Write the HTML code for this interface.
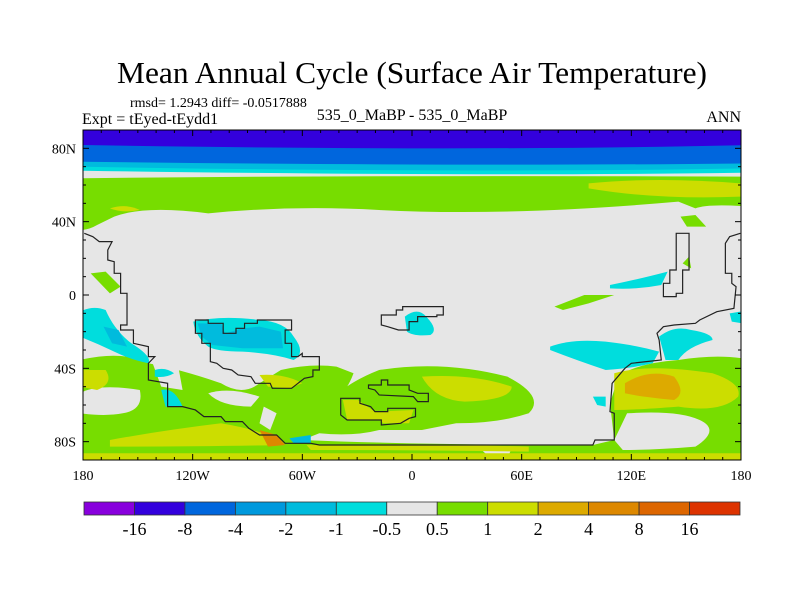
<!DOCTYPE html>
<html><head><meta charset="utf-8"><style>
html,body{margin:0;padding:0;background:#fff;}
svg{display:block;font-family:"Liberation Serif",serif;}
</style></head><body>
<svg id="chart" width="800" height="600" viewBox="0 0 800 600">
<rect x="0" y="0" width="800" height="600" fill="#fff"/>
<text x="412" y="83" font-size="31" text-anchor="middle" textLength="590" lengthAdjust="spacingAndGlyphs">Mean Annual Cycle (Surface Air Temperature)</text>
<text x="130" y="107" font-size="14">rmsd= 1.2943 diff= -0.0517888</text>
<text x="82" y="124" font-size="16">Expt = tEyed-tEydd1</text>
<text x="412" y="120" font-size="16" text-anchor="middle">535_0_MaBP - 535_0_MaBP</text>
<text x="741" y="122" font-size="16" text-anchor="end">ANN</text>
<defs><clipPath id="mc"><rect x="83" y="130" width="658" height="330"/></clipPath></defs>
<g clip-path="url(#mc)">
<rect x="83" y="130" width="658" height="330" fill="#e6e6e6"/>
<g transform="translate(80,130) scale(0.4274,0.3333)">
<path d="M0,0H1570V128Q900,140 0,122Z" fill="#00dddd"/>
<path d="M0,0H1570V115Q900,130 0,110Z" fill="#00bbdd"/>
<path d="M0,0H1570V100Q900,110 0,95Z" fill="#0066dd"/>
<path d="M0,0H1570V45Q900,65 0,45Z" fill="#3300dd"/>
<path d="M0,145 Q600,135 1570,140 V230 Q1470,220 1440,235 L1400,215 Q1000,260 700,240 Q500,225 300,250 Q150,225 80,260 L40,285 Q20,300 0,300Z" fill="#77dd00"/>
<path d="M1190,160 Q1350,140 1545,160 V200 Q1350,210 1190,175Z" fill="#ccdd00"/>
<path d="M70,235 Q110,220 140,240 Q100,250 70,235Z" fill="#ccdd00"/>
<path d="M1405,260 L1440,255 L1465,290 L1420,290Z" fill="#77dd00"/>
<path d="M25,430 L60,425 L95,470 L70,490Z" fill="#77dd00"/>
<path d="M1110,530 L1180,495 L1250,495 L1190,520 L1130,540Z" fill="#77dd00"/>
<path d="M1410,400 L1425,380 L1430,415 Z" fill="#77dd00"/>
<path d="M0,690 Q100,660 160,700 Q240,720 330,760 Q380,800 420,760 L470,720 Q540,700 600,710 L640,730 Q620,800 580,820 Q620,760 700,720 Q850,690 1000,740 Q1090,800 1050,850 Q980,880 880,880 L800,900 L700,900 Q640,920 560,910 L520,930 Q800,945 1200,945 L1250,930 L1240,820 L1260,740 Q1300,700 1400,690 Q1500,670 1570,690 V990 H0Z" fill="#77dd00"/>
<path d="M0,790 Q40,760 140,780 Q150,840 100,850 Q60,860 0,850Z" fill="#e6e6e6"/>
<path d="M170,700 L230,710 L240,780 L190,770Z" fill="#e6e6e6"/>
<path d="M1280,850 Q1400,840 1450,870 Q1500,900 1440,950 Q1350,960 1270,960 L1250,930Z" fill="#e6e6e6"/>
<path d="M300,790 Q350,770 420,800 L400,830 Q330,830 300,790Z" fill="#e6e6e6"/>
<path d="M430,830 L460,850 L445,900 L420,880Z" fill="#e6e6e6"/>
<path d="M940,960 L1010,955 L1000,985 L960,985Z" fill="#e6e6e6"/>
<path d="M800,740 Q920,730 1010,770 Q1010,810 900,815 Q830,810 800,740Z" fill="#ccdd00"/>
<path d="M615,810 L650,810 L690,845 L780,840 L770,880 L710,880 L700,870 L625,870Z" fill="#ccdd00"/>
<path d="M1250,730 Q1330,700 1480,730 Q1550,760 1540,800 Q1500,850 1400,830 Q1300,840 1250,840Z" fill="#ccdd00"/>
<path d="M1275,760 Q1330,715 1390,740 Q1420,790 1390,810 Q1310,800 1275,790Z" fill="#ddaa00"/>
<path d="M0,720 L60,720 Q80,760 40,780 L0,770Z" fill="#ccdd00"/>
<path d="M70,930 Q200,900 330,880 Q420,900 470,930 L480,945 Q300,950 70,950Z" fill="#ccdd00"/>
<path d="M420,900 L460,915 L480,945 L440,950Z" fill="#dd8800"/>
<path d="M0,970 H1570 V990 H0Z" fill="#ccdd00"/>
<path d="M530,945 Q800,940 1050,950 L1050,965 Q800,960 540,960Z" fill="#ccdd00"/>
<path d="M420,735 Q480,730 520,760 L490,775 L440,770Z" fill="#ccdd00"/>
<path d="M0,545 Q30,525 60,540 Q80,600 120,640 Q170,680 160,700 Q120,690 80,665 Q40,640 0,620Z" fill="#00dddd"/>
<path d="M55,590 L90,600 L110,650 L75,640Z" fill="#00bbdd"/>
<path d="M265,575 Q330,555 420,570 Q480,575 500,620 Q530,670 500,690 Q450,670 380,665 Q320,665 300,650 Q270,620 265,575Z" fill="#00dddd"/>
<path d="M275,580 L330,580 L340,610 L380,595 L420,590 L470,605 L475,655 L380,655 L310,645 L285,620Z" fill="#00bbdd"/>
<path d="M175,720 Q200,710 220,730 Q200,745 175,740Z" fill="#00dddd"/>
<path d="M190,780 Q220,770 240,830 L200,830Z" fill="#00dddd"/>
<path d="M760,560 Q790,530 810,560 Q840,600 820,615 Q780,620 765,605Z" fill="#00dddd"/>
<path d="M1100,650 Q1150,625 1230,635 Q1300,645 1355,665 L1340,700 Q1290,715 1230,720 Q1160,690 1100,660Z" fill="#00dddd"/>
<path d="M1355,620 Q1390,585 1430,600 Q1480,610 1480,630 Q1420,650 1400,690 L1370,690Z" fill="#00dddd"/>
<path d="M1240,465 Q1300,450 1375,425 L1360,465 Q1300,480 1240,475Z" fill="#00dddd"/>
<path d="M1520,550 L1545,545 L1550,580 L1525,575Z" fill="#00dddd"/>
<path d="M1200,800 L1230,800 L1230,830 L1210,825Z" fill="#00dddd"/>
<path d="M490,925 L540,915 L540,940 L500,940Z" fill="#00bbdd"/>
<g fill="none" stroke="#222" stroke-width="1.2">
<polyline vector-effect="non-scaling-stroke" points="10,310 30,320 45,335 75,335 65,360 65,390 80,395 80,430 95,430 95,490 110,490 110,585 95,585 95,600 125,600 125,640 160,650 160,680 175,680 160,700 160,750 205,760 205,830 240,830 270,840 290,860 330,860 340,875 380,875 395,895 420,915 460,915 480,940 540,940 560,945 1200,945 1205,930 1250,930 1250,850 1240,845 1245,760 1275,715 1290,700 1360,690 1355,630 1350,610 1365,590 1390,585 1440,580 1450,570 1490,545 1530,535 1535,470 1525,460 1525,430 1510,430 1510,340 1520,320 1545,310"/>
<polygon vector-effect="non-scaling-stroke" points="270,570 300,570 300,580 335,580 335,610 365,610 365,595 385,595 385,580 415,580 415,570 495,570 495,600 480,600 480,640 495,640 495,680 510,680 520,670 520,680 560,680 560,720 545,720 545,740 525,745 510,760 495,775 450,775 445,760 410,760 400,740 370,735 355,720 335,715 320,700 305,695 305,640 285,640 285,610 270,610"/>
<polygon vector-effect="non-scaling-stroke" points="705,555 740,555 740,540 755,540 755,530 850,530 850,555 835,555 835,560 790,560 790,575 770,575 770,600 745,600 720,590 705,585"/>
<polygon vector-effect="non-scaling-stroke" points="610,805 655,805 655,820 680,830 690,845 720,845 720,835 785,835 785,860 770,865 750,880 705,885 705,870 625,870 610,855"/>
<polygon vector-effect="non-scaling-stroke" points="675,765 705,765 705,750 720,750 720,765 770,765 770,780 790,790 815,790 815,815 790,815 780,800 700,795 690,780 675,775"/>
<polygon vector-effect="non-scaling-stroke" points="1395,310 1425,310 1425,420 1410,420 1410,490 1395,490 1395,500 1365,500 1365,460 1380,460 1380,420 1395,420"/>
</g>
</g>
</g>
<rect x="83" y="130" width="658" height="330" fill="none" stroke="#000" stroke-width="1"/>
<g id="axes" font-size="14"></g>
<g id="cbar"></g>
<script>
const lonTicks=[-180,-120,-60,0,60,120,180];
const lonLabels=["180","120W","60W","0","60E","120E","180"];
const latTicks=[80,40,0,-40,-80];
const latLabels=["80N","40N","0","40S","80S"];
const levelLabels=["-16","-8","-4","-2","-1","-0.5","0.5","1","2","4","8","16"];
const levelColors=["#8800dd","#3300dd","#0066dd","#0099dd","#00bbdd","#00dddd","#e6e6e6","#77dd00","#ccdd00","#ddaa00","#dd8800","#dd6600","#dd3300"];
const NS="http://www.w3.org/2000/svg";
const X0=83,X1=741,Y0=130,Y1=460;
const xLon=l=>X0+(l+180)/360*(X1-X0);
const yLat=l=>Y0+(90-l)/180*(Y1-Y0);
const ax=document.getElementById('axes');
function mk(t,a,p){const e=document.createElementNS(NS,t);for(const k in a)e.setAttribute(k,a[k]);p.appendChild(e);return e;}
lonTicks.forEach((l,i)=>{
  const t=mk('text',{x:xLon(l),y:480,'text-anchor':'middle'},ax);t.textContent=lonLabels[i];
  
  
});
for(let l=-180;l<=180;l+=10){const big=l%60===0;
  mk('line',{x1:xLon(l),x2:xLon(l),y1:Y0,y2:Y0+(big?6:3),stroke:'#000'},ax);
  mk('line',{x1:xLon(l),x2:xLon(l),y1:Y1,y2:Y1-(big?6:3),stroke:'#000'},ax);}
for(let l=-90;l<=90;l+=10){const big=(l%40===0&&l!==0)||l===0;
  mk('line',{x1:X0,x2:X0+(big?6:3),y1:yLat(l),y2:yLat(l),stroke:'#000'},ax);
  mk('line',{x1:X1,x2:X1-(big?6:3),y1:yLat(l),y2:yLat(l),stroke:'#000'},ax);}
latTicks.forEach((l,i)=>{
  const t=mk('text',{x:76,y:yLat(l)+5,'text-anchor':'end'},ax);t.textContent=latLabels[i];
  
  
});
const cb=document.getElementById('cbar');
const CX0=84,CX1=740,bw=(CX1-CX0)/levelColors.length;
levelColors.forEach((c,i)=>{
  const r=mk('rect',{x:CX0+i*bw,y:502,width:bw,height:13,fill:c,stroke:'#333','stroke-width':0.8},cb);
  
  
});
levelLabels.forEach((s,i)=>{
  const t=mk('text',{x:CX0+(i+1)*bw,y:535,'text-anchor':'middle','font-size':18},cb);t.textContent=s;
  
  
});
</script>
</svg>
</body></html>
